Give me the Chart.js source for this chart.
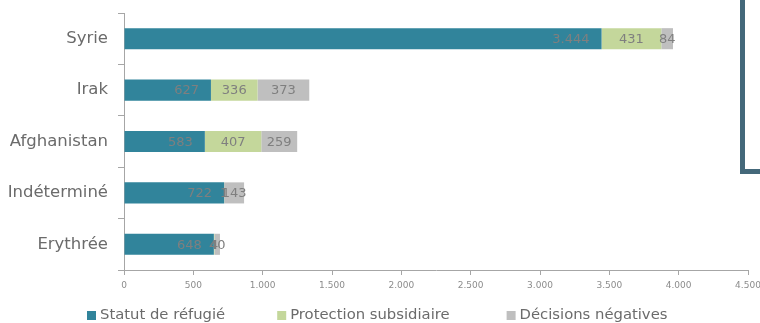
<!DOCTYPE html>
<html>
<head>
<meta charset="utf-8">
<script src="https://cdn.jsdelivr.net/npm/chart.js@4/dist/chart.umd.min.js"></script>
<style>
  html, body { margin: 0; padding: 0; background: #ffffff; overflow: hidden; }
  #wrap { position: relative; width: 760px; height: 323px; }
  #c { position: absolute; left: 0; top: 0; }
  .deco { position: absolute; background: #44687a; }
</style>
</head>
<body>
<div id="wrap">
  <canvas id="c" width="760" height="323"></canvas>
  <div class="deco" style="left:740px; top:0; width:5px; height:174px;"></div>
  <div class="deco" style="left:740px; top:169px; width:20px; height:5px;"></div>
</div>
<script>
const categories = ['Syrie', 'Irak', 'Afghanistan', 'Indéterminé', 'Erythrée'];
const seriesNames = ['Statut de réfugié', 'Protection subsidiaire', 'Décisions négatives'];
const refugie = [3444, 627, 583, 722, 648];
const protection = [431, 336, 407, 1, 4];
const negatives = [84, 373, 259, 143, 40];
const xTicks = [0, 500, 1000, 1500, 2000, 2500, 3000, 3500, 4000, 4500];

const colors = ['#31849b', '#c4d79b', '#bfbfbf'];
const FONT = "'DejaVu Sans', Verdana, sans-serif";

function fmt(n) {
  return String(n).replace(/\B(?=(\d{3})+(?!\d))/g, '.');
}

const labelPlugin = {
  id: 'segLabels',
  afterDatasetsDraw(chart) {
    const ctx = chart.ctx;
    ctx.save();
    ctx.font = '13px ' + FONT;
    ctx.fillStyle = '#7f7f7f';
    ctx.textBaseline = 'middle';
    chart.data.datasets.forEach((ds, di) => {
      const meta = chart.getDatasetMeta(di);
      meta.data.forEach((bar, i) => {
        const txt = fmt(ds.data[i]);
        if (di === 0) {
          ctx.textAlign = 'right';
          ctx.fillText(txt, bar.x - 12, bar.y + 1);
        } else {
          ctx.textAlign = 'center';
          ctx.fillText(txt, (bar.x + bar.base) / 2, bar.y + 1);
        }
      });
    });
    ctx.restore();
  }
};

// Bottom legend drawn from the datasets (box, small gap, text; items centred)
const legendPlugin = {
  id: 'bottomLegend',
  afterDraw(chart) {
    const ctx = chart.ctx;
    const box = 9, gapText = 4, gaps = [52, 57], cy = 315;
    ctx.save();
    ctx.font = '14.8px ' + FONT;
    ctx.textBaseline = 'middle';
    ctx.textAlign = 'left';
    const items = chart.data.datasets.map(ds => ({
      text: ds.label, color: ds.backgroundColor, w: ctx.measureText(ds.label).width
    }));
    let total = 0;
    items.forEach((it, i) => { total += box + gapText + it.w + (i < items.length - 1 ? gaps[i] : 0); });
    let x = Math.round(377 - total / 2);
    items.forEach((it, i) => {
      ctx.fillStyle = it.color;
      ctx.fillRect(x, cy - 4, box, box);
      ctx.fillStyle = '#6b6b6b';
      ctx.fillText(it.text, x + box + gapText, cy);
      x += box + gapText + it.w + (gaps[i] || 0);
    });
    ctx.restore();
  }
};

new Chart(document.getElementById('c'), {
  type: 'bar',
  data: {
    labels: categories,
    datasets: [
      { label: seriesNames[0], data: refugie, backgroundColor: colors[0] },
      { label: seriesNames[1], data: protection, backgroundColor: colors[1] },
      { label: seriesNames[2], data: negatives, backgroundColor: colors[2] }
    ]
  },
  options: {
    indexAxis: 'y',
    responsive: false,
    animation: false,
    devicePixelRatio: 1,
    datasets: { bar: { categoryPercentage: 1, barPercentage: 0.41 } },
    layout: { padding: { left: 0, right: 12, top: 13, bottom: 35 } },
    scales: {
      x: {
        stacked: true,
        min: 0,
        max: 4500,
        afterBuildTicks: (s) => { s.ticks = xTicks.map(v => ({ value: v })); },
        afterFit: (s) => { s.paddingLeft = 0; s.paddingRight = 0; s.height = 18; },
        ticks: {
          callback: (v) => fmt(v),
          font: { family: FONT, size: 9 },
          color: '#8c8c8c',
          padding: 5,
          maxRotation: 0,
          autoSkip: false
        },
        grid: { drawOnChartArea: false, drawTicks: true, tickLength: 5, color: '#a6a6a6' },
        border: { color: '#a6a6a6', width: 1 }
      },
      y: {
        stacked: true,
        afterFit: (s) => { s.width = 124; s.paddingTop = 0; s.paddingBottom = 0; },
        ticks: {
          font: { family: FONT, size: 16.5 },
          color: '#6b6b6b',
          padding: 10
        },
        grid: { drawOnChartArea: false, drawTicks: true, tickLength: 6, offset: true, color: '#a6a6a6' },
        border: { color: '#a6a6a6', width: 1 }
      }
    },
    plugins: {
      legend: { display: false },
      tooltip: { enabled: false },
      title: { display: false }
    }
  },
  plugins: [labelPlugin, legendPlugin]
});
</script>
</body>
</html>
